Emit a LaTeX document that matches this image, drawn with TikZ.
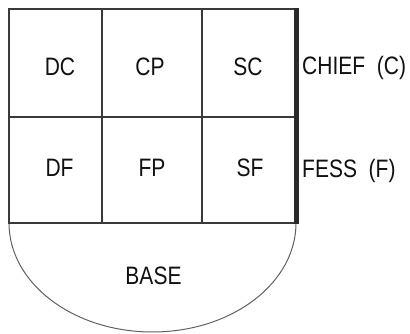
\documentclass[tikz,border=0pt]{standalone}
\usepackage{fontspec}
\newfontfamily\heraldfont{Liberation Sans}
\usepackage{tikz}
\usetikzlibrary{positioning}
\usepackage{xcolor}
\definecolor{ink}{HTML}{111111}
\definecolor{rule}{HTML}{3A3A3A}
\definecolor{edge}{HTML}{2A2A2A}
\tikzset{
    division/.style={
        line width=1.5pt,
        color=rule
    },
    basearc/.style={
        line width=1pt,
        color=rule!80
    },
    flank/.style={
        line width=5pt,
        color=edge
    },
    pointlabel/.style={
        font=\heraldfont\fontsize{21}{25}\selectfont,
        text=ink,
        inner sep=0pt,
        yscale=1.2
    },
    sidelabel/.style={
        pointlabel,
        anchor=west
    }
}

\begin{document}
\begin{tikzpicture}[x=1pt,y=1pt]

    \useasboundingbox (0,0) rectangle (410,334);

    \def\xl{9}
    \def\xa{102}
    \def\xb{202}
    \def\xr{296}
    \def\yt{325}
    \def\ym{217}
    \def\yb{111}

    % Base
    \draw[basearc]
        (\xl,\yb)
        arc (180:360:143.5 and 109);

    % Chief and fess
    \draw[division]
        (\xl,\yt) rectangle (\xr,\yb);

    \draw[division]
        (\xl,\ym) -- (\xr,\ym);

    % Pales
    \draw[division]
        (\xa,\yt) -- (\xa,\yb);

    \draw[division]
        (\xb,\yt) -- (\xb,\yb);

    % Flank
    \draw[flank]
        (\xr,\yt+0.75) -- (\xr,\yb-0.75);

    % Points of the chief
    \node[pointlabel] (dc) at (60,267) {DC};
    \node[pointlabel] (cp) at (150,267) {CP};
    \node[pointlabel] (sc) at (248,267) {SC};

    % Points of the fess
    \node[pointlabel] (df) at (59.5,166.5) {DF};
    \node[pointlabel] (fp) at (152,166.5) {FP};
    \node[pointlabel] (sf) at (250,166.5) {SF};

    % Base point
    \node[pointlabel] (base) at (153.5,58) {BASE};

    % Names
    \node[sidelabel] (chief) at (302,266) {CHIEF~~(C)};
    \node[sidelabel] (fess) at (302,163) {FESS~~(F)};

\end{tikzpicture}
\end{document}
